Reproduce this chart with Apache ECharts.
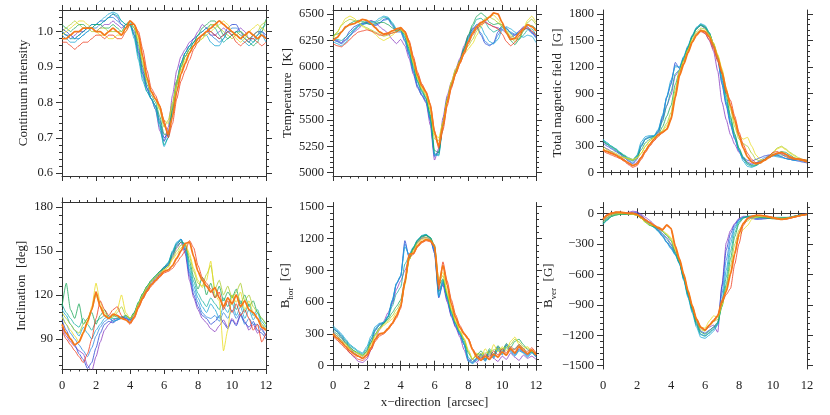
<!DOCTYPE html>
<html>
<head>
<meta charset="utf-8">
<script src="https://cdn.jsdelivr.net/npm/echarts@6/dist/echarts.min.js"></script>
<style>
html, body { margin: 0; padding: 0; background: #fff; }
#chart { width: 830px; height: 415px; }
</style>
</head>
<body>
<div id="chart"></div>
<script>
// sample positions along the slit [arcsec]
const xPos = [0, 0.25, 0.5, 0.75, 1, 1.25, 1.5, 1.75, 2, 2.25, 2.5, 2.75,
  3, 3.25, 3.5, 3.75, 4, 4.25, 4.5, 4.75, 5, 5.25, 5.5, 5.75,
  6, 6.25, 6.5, 6.75, 7, 7.25, 7.5, 7.75, 8, 8.25, 8.5, 8.75,
  9, 9.25, 9.5, 9.75, 10, 10.25, 10.5, 10.75, 11, 11.25, 11.5, 11.75, 12];

// rows: purple, blue, azure, cyan, teal, green, lime, yellow, red, orange
const intensity = [
  [1.00,0.99,0.98,0.99,1.00,1.00,1.01,1.01,1.00,1.01,1.02,1.02, 1.03,1.02,1.01,1.02,1.02,0.99,0.94,0.88,0.84,0.81,0.78,0.72, 0.69,0.73,0.82,0.89,0.93,0.95,0.97,0.98,1.00,1.02,1.01,0.99, 0.99,1.00,1.01,1.00,0.99,1.00,1.01,1.00,0.98,0.99,1.00,0.99,0.98],
  [1.01,1.00,0.99,0.98,0.99,1.00,1.01,1.02,1.02,1.03,1.03,1.04, 1.05,1.04,1.02,1.01,1.02,1.00,0.95,0.89,0.84,0.81,0.79,0.75, 0.70,0.71,0.79,0.86,0.91,0.94,0.96,0.98,0.99,1.00,1.01,1.00, 0.99,0.98,0.99,1.01,1.02,1.02,1.00,0.98,0.97,0.99,1.00,1.00,0.99],
  [1.00,0.99,0.99,0.98,0.98,0.99,1.00,1.01,1.01,1.02,1.03,1.04, 1.04,1.03,1.02,1.01,1.02,0.99,0.94,0.88,0.84,0.81,0.79,0.74, 0.69,0.71,0.79,0.86,0.91,0.94,0.96,0.97,0.98,0.99,1.00,0.99, 0.98,0.97,0.98,1.00,1.01,1.01,1.00,0.99,0.98,0.98,0.99,1.00,0.98],
  [0.99,0.98,0.97,0.97,0.98,0.99,1.00,1.01,1.02,1.03,1.04,1.05, 1.055,1.05,1.03,1.02,1.02,0.98,0.92,0.86,0.83,0.81,0.78,0.73, 0.675,0.70,0.77,0.85,0.90,0.93,0.95,0.97,0.98,0.99,0.99,0.97, 0.96,0.96,0.98,1.00,1.00,0.99,0.98,0.97,0.96,0.97,0.98,0.99,0.97],
  [1.00,0.99,0.98,0.98,0.99,1.00,1.01,1.02,1.02,1.02,1.03,1.04, 1.05,1.045,1.03,1.02,1.025,0.99,0.93,0.87,0.83,0.81,0.79,0.74, 0.68,0.70,0.78,0.86,0.91,0.94,0.96,0.97,0.99,1.00,1.01,1.02, 1.01,0.99,0.97,0.98,0.99,1.00,1.00,0.99,0.98,0.97,0.99,1.01,1.02],
  [1.02,1.01,1.00,1.01,1.02,1.02,1.01,1.01,1.02,1.02,1.01,1.01, 1.02,1.01,1.00,1.02,1.03,1.01,0.96,0.90,0.85,0.82,0.80,0.76, 0.71,0.71,0.78,0.85,0.90,0.93,0.95,0.97,0.99,1.01,1.02,1.03, 1.03,1.01,0.99,0.98,0.99,1.00,0.99,0.98,0.97,0.96,0.97,1.00,1.035],
  [1.00,1.01,1.02,1.03,1.02,1.01,1.01,1.00,1.00,1.01,1.01,1.00, 1.00,1.00,1.00,1.01,1.02,1.01,0.97,0.91,0.86,0.83,0.81,0.78, 0.73,0.75,0.80,0.86,0.90,0.93,0.95,0.96,0.97,0.98,1.00,1.02, 1.02,1.01,1.00,0.99,0.98,0.99,1.00,0.99,0.98,0.99,1.00,1.02,1.03],
  [0.99,1.00,1.01,1.02,1.03,1.03,1.02,1.01,1.00,0.99,0.99,0.98, 0.98,0.99,0.99,1.00,1.02,1.02,0.98,0.92,0.87,0.83,0.81,0.78, 0.75,0.74,0.79,0.85,0.89,0.92,0.94,0.96,0.97,0.98,0.99,1.00, 1.01,1.02,1.03,1.02,1.00,0.98,0.97,0.98,1.00,1.01,1.02,1.01,1.00],
  [0.97,0.97,0.96,0.95,0.96,0.97,0.97,0.98,0.99,0.99,0.98,0.99, 0.99,0.98,0.98,1.00,1.02,1.02,1.00,0.95,0.89,0.84,0.82,0.79, 0.75,0.70,0.74,0.81,0.86,0.89,0.92,0.95,0.97,0.99,1.00,1.00, 0.99,0.98,0.99,1.00,0.99,0.97,0.96,0.97,0.98,0.98,0.97,0.96,0.97],
  [0.98,0.98,0.99,1.00,1.00,1.01,1.01,1.01,1.00,1.00,0.99,1.00, 1.01,1.00,0.99,1.01,1.03,1.02,0.99,0.93,0.87,0.83,0.81,0.79, 0.74,0.71,0.76,0.83,0.88,0.91,0.94,0.96,0.98,0.99,1.00,1.01, 1.02,1.03,1.02,1.01,1.00,0.99,0.98,0.99,1.00,0.99,0.98,0.99,0.98]
];

const temperature = [
  [6260,6240,6220,6260,6300,6330,6360,6400,6420,6440,6420,6380, 6350,6320,6260,6220,6260,6200,6080,5930,5800,5730,5660,5450, 5120,5230,5520,5730,5860,5980,6080,6200,6300,6360,6400,6420, 6430,6400,6380,6370,6350,6320,6280,6300,6340,6380,6360,6320,6290],
  [6270,6250,6230,6280,6340,6380,6400,6410,6420,6410,6390,6410, 6450,6460,6400,6340,6340,6250,6120,5960,5820,5740,5680,5500, 5160,5200,5480,5700,5830,5960,6060,6170,6280,6360,6380,6300, 6220,6200,6230,6330,6390,6370,6320,6300,6320,6370,6380,6330,6280],
  [6260,6240,6220,6250,6300,6350,6390,6410,6410,6400,6400,6420, 6440,6450,6390,6330,6330,6240,6110,5950,5810,5730,5670,5490, 5150,5190,5470,5690,5830,5950,6050,6160,6270,6340,6370,6320, 6240,6210,6220,6300,6370,6360,6330,6310,6330,6360,6360,6320,6270],
  [6240,6220,6200,6230,6290,6340,6380,6400,6410,6420,6430,6460, 6480,6470,6420,6360,6350,6270,6140,5980,5850,5760,5700,5520, 5170,5160,5440,5680,5820,5940,6040,6150,6260,6340,6400,6380, 6300,6240,6220,6260,6350,6380,6360,6330,6300,6280,6300,6290,6230],
  [6280,6260,6250,6280,6320,6360,6390,6420,6430,6430,6420,6440, 6470,6460,6410,6350,6350,6280,6150,5990,5860,5770,5700,5530, 5180,5170,5450,5690,5830,5950,6050,6170,6290,6380,6450,6460, 6420,6360,6330,6350,6380,6360,6320,6270,6260,6300,6350,6360,6300],
  [6300,6310,6330,6370,6410,6430,6440,6430,6410,6400,6410,6420, 6420,6400,6370,6340,6350,6300,6170,6010,5870,5780,5710,5550, 5210,5190,5460,5690,5840,5960,6060,6180,6300,6400,6480,6510, 6480,6420,6400,6410,6400,6340,6250,6210,6260,6340,6400,6390,6360],
  [6280,6330,6390,6430,6450,6440,6420,6390,6370,6350,6330,6310, 6290,6300,6320,6340,6350,6310,6190,6030,5890,5790,5730,5590, 5320,5300,5470,5690,5850,5970,6060,6140,6200,6260,6340,6410, 6460,6470,6450,6420,6380,6330,6280,6240,6270,6340,6420,6450,6400],
  [6270,6320,6400,6460,6480,6460,6420,6380,6360,6340,6310,6270, 6250,6270,6300,6330,6350,6320,6200,6040,5900,5800,5740,5600, 5360,5330,5480,5690,5860,5980,6050,6120,6170,6220,6300,6380, 6440,6480,6490,6450,6390,6340,6300,6260,6290,6360,6440,6480,6420],
  [6220,6200,6190,6220,6260,6300,6330,6340,6350,6340,6320,6300, 6300,6310,6320,6330,6360,6340,6250,6100,5950,5840,5770,5650, 5400,5230,5400,5630,5800,5930,6030,6120,6220,6300,6360,6400, 6420,6400,6380,6360,6310,6240,6200,6230,6290,6350,6370,6340,6300],
  [6250,6280,6330,6380,6400,6410,6430,6450,6440,6410,6370,6330, 6310,6320,6340,6360,6370,6330,6230,6070,5920,5820,5760,5640, 5380,5250,5440,5660,5820,5940,6040,6140,6240,6320,6380,6420, 6440,6470,6510,6500,6420,6320,6260,6270,6320,6360,6400,6380,6340]
];

const totalField = [
  [300,270,240,200,180,150,100,80,120,180,250,320, 380,450,600,760,880,1100,1160,1280,1390,1490,1580,1620, 1580,1500,1380,1150,800,600,430,320,230,160,120,100, 110,130,150,170,190,210,220,200,180,160,150,140,130],
  [340,300,270,240,210,170,130,100,150,300,380,400, 410,470,620,850,1000,1250,1180,1300,1420,1540,1630,1670, 1640,1560,1420,1280,1000,760,540,380,250,170,140,130, 150,170,190,200,210,200,180,160,150,140,130,120,110],
  [360,320,280,250,220,180,140,110,170,320,390,410, 415,480,640,860,1020,1220,1190,1310,1430,1550,1640,1680, 1650,1570,1430,1290,1020,780,560,390,250,150,100,90, 110,140,170,190,200,190,180,160,150,140,140,130,120],
  [380,340,300,270,230,190,150,130,200,350,410,420, 420,490,650,860,1050,1200,1200,1320,1440,1560,1650,1690, 1670,1590,1450,1300,1050,800,580,400,250,130,70,60, 80,110,140,170,190,180,170,160,150,140,150,140,130],
  [370,330,300,270,230,200,170,150,190,300,380,400, 410,460,580,760,920,1120,1170,1300,1420,1550,1640,1680, 1660,1590,1460,1310,1080,840,610,420,270,160,90,70, 80,110,150,180,200,200,200,190,170,150,150,140,130],
  [360,320,290,260,220,190,160,140,180,260,340,380, 400,430,520,640,760,1000,1150,1280,1410,1540,1630,1670, 1650,1580,1460,1320,1120,880,640,440,280,180,110,80, 90,120,150,180,200,220,240,230,200,170,150,140,130],
  [300,260,240,220,190,170,150,140,160,220,300,360, 400,430,480,560,680,940,1150,1270,1400,1520,1600,1640, 1630,1570,1470,1330,1160,930,720,520,380,330,300,220, 150,130,150,180,230,280,300,270,230,200,170,150,140],
  [280,240,220,200,180,170,160,150,170,220,300,360, 400,430,470,530,640,900,1150,1270,1390,1500,1580,1620, 1610,1560,1470,1340,1180,960,760,560,420,380,400,300, 200,150,140,170,220,270,290,260,220,190,160,150,140],
  [250,220,200,180,160,130,90,60,80,150,230,300, 360,410,450,500,620,860,1120,1240,1370,1480,1560,1600, 1580,1510,1400,1260,1120,900,820,640,460,320,220,150, 110,120,150,190,230,240,210,180,160,150,160,150,140],
  [260,240,220,200,170,140,110,80,100,170,250,320, 380,430,460,490,600,850,1100,1230,1360,1480,1560,1610, 1600,1540,1440,1300,1140,940,760,600,420,280,180,120, 100,110,140,170,200,220,230,210,180,160,150,140,120]
];

const inclination = [
  [98,92,88,85,82,80,72,68,78,88,96,100, 103,104,105,104,103,108,114,120,125,129,132,136, 139,140,146,152,156,148,130,118,110,104,101,97, 95,99,103,98,104,100,107,102,96,100,94,97,92],
  [103,96,90,86,80,76,70,74,84,94,100,102, 101,103,105,104,102,107,113,119,124,128,131,134, 138,141,148,154,158,150,133,120,112,106,104,100, 102,106,101,97,103,99,106,101,98,102,96,94,90],
  [106,100,94,90,86,82,78,84,92,98,102,104, 102,103,104,105,103,107,114,120,125,129,132,135, 138,141,149,155,158,151,135,123,115,108,105,104, 106,102,108,104,110,104,108,100,104,100,100,96,92],
  [110,106,100,96,92,98,94,90,96,100,104,106, 102,103,104,105,103,107,114,120,125,129,132,135, 139,142,150,156,158,152,137,126,118,112,108,114, 110,104,112,108,115,106,112,104,110,103,108,100,96],
  [114,108,104,100,98,104,100,96,102,104,106,105, 104,104,105,106,104,108,115,121,126,130,133,136, 139,142,149,155,157,154,140,129,121,116,112,118, 114,110,118,112,120,110,116,108,114,106,110,102,98],
  [112,128,110,104,114,100,104,108,100,106,110,104, 106,105,104,106,104,108,115,121,126,130,133,136, 138,140,147,153,156,155,143,132,124,132,120,128, 118,126,116,122,118,124,114,120,112,116,108,104,100],
  [108,104,100,96,94,100,104,110,120,112,106,104, 105,108,112,106,104,107,114,120,125,129,132,135, 137,139,145,150,154,154,146,136,128,126,134,140, 124,130,120,126,118,122,128,116,120,112,108,104,100],
  [105,100,96,92,88,95,100,112,128,115,108,104, 106,110,120,108,104,107,114,120,125,129,132,135, 137,139,144,148,152,155,148,138,130,125,130,143, 120,116,82,96,120,115,122,110,116,108,104,100,97],
  [96,90,86,82,78,74,80,90,104,116,110,106, 110,112,106,103,100,104,111,117,122,126,129,132, 135,136,138,142,146,150,157,152,140,132,128,124, 118,122,110,116,108,114,106,110,104,96,100,88,94],
  [100,94,90,86,88,94,102,110,122,112,106,104, 107,106,104,103,101,105,112,118,123,127,130,133, 136,137,140,145,150,155,156,146,136,130,126,122, 125,118,112,118,114,120,112,116,110,108,104,98,96]
];

const bHor = [
  [320,280,240,180,120,80,40,30,60,150,250,340, 420,500,580,720,800,900,1000,1100,1160,1200,1210,1190, 1080,700,760,600,460,360,270,150,40,60,30,80, 50,100,70,40,90,60,120,80,50,100,70,90,60],
  [350,320,270,210,160,120,90,70,110,220,330,390, 400,460,600,770,840,1180,1020,1100,1170,1210,1230,1200, 1060,640,780,620,470,370,290,200,60,30,70,110, 60,140,90,180,120,200,150,110,160,130,100,140,90],
  [360,330,290,230,180,140,110,90,140,250,350,395, 405,465,610,775,845,1150,1030,1110,1180,1220,1235,1205, 1080,650,790,630,480,380,295,200,50,25,60,100, 50,130,80,160,110,190,140,100,150,125,90,130,85],
  [380,340,300,250,200,170,140,120,180,280,370,400, 410,470,620,780,850,1120,1050,1120,1190,1230,1240,1210, 1100,660,800,640,490,390,300,200,40,20,50,90, 40,120,70,150,100,170,130,90,140,120,80,120,80],
  [360,320,280,240,190,160,130,110,160,250,340,380, 405,455,560,680,740,960,1030,1115,1185,1225,1235,1210, 1120,700,810,650,500,395,310,220,80,40,75,115, 60,140,90,170,120,190,150,160,200,160,110,130,100],
  [330,300,260,220,170,140,120,100,140,220,300,360, 400,440,500,560,620,800,1000,1110,1180,1220,1230,1210, 1140,760,820,660,510,400,320,240,120,60,100,140, 80,160,110,190,140,210,170,230,250,200,150,130,110],
  [310,280,240,210,165,135,115,95,130,210,290,350, 390,425,470,530,590,780,1000,1095,1165,1205,1215,1195, 1130,790,850,680,525,410,325,250,135,60,110,110, 120,130,150,160,160,175,200,250,225,180,165,135,115],
  [300,260,230,200,160,130,110,90,120,200,280,340, 380,410,440,500,560,760,1000,1080,1150,1190,1200,1180, 1120,820,880,700,540,420,330,260,150,60,120,80, 160,100,200,130,180,140,230,270,200,160,180,140,120],
  [280,240,200,160,120,90,60,50,80,150,230,280, 300,340,390,450,540,780,1020,1050,1120,1160,1180,1170, 1120,720,980,800,620,480,380,310,260,160,100,60, 110,80,140,100,160,120,180,150,200,160,130,170,120],
  [300,260,220,180,140,110,90,70,100,170,250,300, 310,350,400,470,560,800,1050,1060,1130,1170,1190,1180, 1130,760,950,760,580,450,360,300,250,150,80,50, 90,60,110,80,130,100,160,120,180,140,110,150,100]
];

const bVer = [
  [-60,-20,0,10,5,0,10,20,15,-10,-40,-70, -110,-160,-200,-240,-300,-380,-470,-620,-780,-920,-1040,-1120, -1150,-1120,-1100,-1170,-700,-290,-170,-100,-50,-30,-30,-40, -50,-50,-50,-50,-50,-50,-50,-45,-40,-35,-20,-10,-10],
  [-80,-40,-10,0,5,0,0,10,5,-20,-60,-100, -130,-170,-220,-280,-330,-400,-490,-640,-800,-940,-1070,-1160, -1180,-1150,-1120,-1080,-720,-360,-200,-110,-60,-40,-40,-50, -60,-60,-55,-50,-45,-45,-50,-45,-40,-30,-20,-10,-10],
  [-90,-50,-20,-5,0,-5,-5,0,-5,-30,-70,-105, -135,-175,-225,-285,-340,-405,-495,-650,-815,-960,-1095,-1190, -1205,-1175,-1140,-1090,-790,-460,-250,-130,-65,-40,-35,-40, -50,-50,-48,-45,-42,-42,-45,-42,-40,-30,-20,-12,-12],
  [-110,-70,-30,-10,-5,-10,-10,-5,-10,-40,-80,-110, -140,-180,-230,-290,-350,-410,-500,-660,-830,-980,-1120,-1220, -1230,-1200,-1160,-1100,-860,-560,-300,-150,-70,-40,-30,-30, -40,-40,-40,-40,-40,-40,-40,-40,-40,-30,-20,-15,-15],
  [-105,-65,-30,-15,-8,-10,-10,-8,-15,-45,-85,-115, -135,-165,-205,-255,-310,-395,-490,-645,-810,-960,-1100,-1195, -1210,-1180,-1140,-1085,-890,-630,-375,-190,-85,-45,-30,-30, -35,-40,-42,-45,-48,-48,-45,-42,-40,-30,-20,-15,-12],
  [-100,-60,-30,-20,-10,-10,-10,-10,-20,-50,-90,-120, -130,-150,-180,-220,-270,-380,-480,-630,-790,-940,-1080,-1170, -1190,-1160,-1120,-1070,-920,-700,-450,-230,-100,-50,-30,-30, -30,-40,-45,-50,-55,-55,-50,-45,-40,-30,-20,-15,-10],
  [-85,-45,-20,-10,-5,-5,-8,-10,-20,-50,-90,-115, -125,-145,-175,-210,-255,-365,-470,-615,-775,-925,-1060,-1145, -1160,-1110,-1065,-1045,-910,-730,-515,-305,-165,-105,-75,-45, -35,-35,-38,-42,-48,-50,-50,-48,-42,-32,-22,-15,-10],
  [-70,-30,-10,0,0,0,-5,-10,-20,-50,-90,-110, -120,-140,-170,-200,-240,-350,-460,-600,-760,-910,-1040,-1120, -1130,-1060,-1010,-1020,-900,-760,-580,-380,-230,-160,-120,-60, -40,-30,-30,-35,-40,-45,-50,-50,-45,-35,-25,-15,-10],
  [-50,-10,5,10,10,5,0,0,-10,-30,-60,-90, -120,-150,-170,-120,-150,-330,-460,-610,-770,-920,-1050,-1130, -1150,-1100,-1050,-1000,-880,-800,-740,-500,-300,-120,-60,-30, -20,-20,-25,-30,-40,-50,-60,-60,-50,-40,-30,-20,-10],
  [-60,-20,0,10,10,5,0,0,-10,-40,-70,-90, -120,-140,-160,-115,-150,-320,-450,-600,-760,-910,-1040,-1120, -1150,-1100,-1060,-1010,-860,-770,-600,-400,-200,-100,-50,-30, -20,-20,-25,-35,-45,-55,-60,-55,-45,-35,-25,-15,-10]
];

// major tick labels
const intensityTicks = [0.6, 0.7, 0.8, 0.9, 1.0];
const temperatureTicks = [5000, 5250, 5500, 5750, 6000, 6250, 6500];
const totalFieldTicks = [0, 300, 600, 900, 1200, 1500, 1800];
const inclinationTicks = [90, 120, 150, 180];
const bHorTicks = [0, 300, 600, 900, 1200, 1500];
const bVerTicks = [-1500, -1200, -900, -600, -300, 0];

const lineColors = ['#8a3cc2', '#2a47d4', '#2f86e0', '#16a4d4', '#12b0a0', '#1ea85a', '#a8cc28', '#e8dc1e', '#ee3a1c', '#f5781a'];
const font = 'Liberation Serif';
const ink = '#333';

const panels = [
  { title: 'Continuum intensity', rows: intensity, ticks: intensityTicks, minor: 0.02, digits: 1,
    left: 62, top: 10, width: 204, height: 166, min: 0.592, max: 1.061, nameGap: 32 },
  { title: 'Temperature  [K]', rows: temperature, ticks: temperatureTicks, minor: 50, digits: 0,
    left: 333, top: 10, width: 203, height: 166, min: 4969, max: 6538, nameGap: 39 },
  { title: 'Total magnetic field  [G]', rows: totalField, ticks: totalFieldTicks, minor: 60, digits: 0,
    left: 603, top: 10, width: 204, height: 166, min: -38, max: 1845, nameGap: 39 },
  { title: 'Inclination  [deg]', rows: inclination, ticks: inclinationTicks, minor: 6, digits: 0,
    left: 62, top: 202.5, width: 204, height: 166.5, min: 69.6, max: 182.9, nameGap: 34 },
  { title: '{m|B}{s|hor}{m|  [G]}', rows: bHor, ticks: bHorTicks, minor: 60, digits: 0,
    left: 333, top: 202.5, width: 203, height: 166.5, min: -31, max: 1540, nameGap: 38 },
  { title: '{m|B}{s|ver}{m|  [G]}', rows: bVer, ticks: bVerTicks, minor: 60, digits: 0,
    left: 603, top: 202.5, width: 204, height: 166.5, min: -1532, max: 106, nameGap: 39 }
];

function minorValues(min, max, step) {
  const out = [];
  for (let k = Math.ceil(min / step - 1e-9); k * step <= max + 1e-9; k++) {
    out.push(+(k * step).toFixed(6));
  }
  return out;
}

const textStyle = { fontFamily: font, fontSize: 12.5, color: '#222' };
const grid = [], xAxis = [], yAxis = [], series = [];

panels.forEach((p, i) => {
  const bottomRow = i >= 3;
  grid.push({ left: p.left, top: p.top, width: p.width, height: p.height });

  const xBase = {
    gridIndex: i, type: 'value', min: 0, max: 12, interval: 2,
    axisLine: { show: true, lineStyle: { color: ink, width: 1 } },
    axisTick: { show: true, inside: false, length: 5, lineStyle: { color: ink } },
    minorTick: { show: true, splitNumber: 4, length: 2.5, lineStyle: { color: ink } },
    splitLine: { show: false }, minorSplitLine: { show: false }
  };
  xAxis.push(Object.assign({}, xBase, {
    position: 'bottom',
    axisLabel: Object.assign({ show: bottomRow, margin: 10 }, textStyle),
    name: i === 4 ? 'x\u2212direction  [arcsec]' : '',
    nameLocation: 'middle', nameGap: 27,
    nameTextStyle: { fontFamily: font, fontSize: 13, color: '#222' }
  }));
  xAxis.push(Object.assign({}, xBase, { position: 'top', axisLabel: { show: false } }));

  const minors = minorValues(p.min, p.max, p.minor);
  const fmt = v => (p.digits ? v.toFixed(p.digits) : String(Math.round(v))).replace('-', '\u2212');
  const yBase = { gridIndex: i, type: 'value', min: p.min, max: p.max, splitLine: { show: false } };
  ['left', 'right'].forEach(side => {
    yAxis.push(Object.assign({}, yBase, {
      position: side,
      axisLine: { show: true, lineStyle: { color: ink, width: 1 } },
      axisTick: { show: true, inside: false, length: 6, customValues: p.ticks, lineStyle: { color: ink } },
      axisLabel: Object.assign({ show: side === 'left', customValues: p.ticks, formatter: fmt, margin: 9 }, textStyle),
      name: side === 'left' ? p.title : '',
      nameLocation: 'middle', nameGap: p.nameGap,
      nameTextStyle: {
        fontFamily: font, fontSize: 13, color: '#222',
        rich: {
          m: { fontFamily: font, fontSize: 13, lineHeight: 18, verticalAlign: 'middle', color: '#222' },
          s: { fontFamily: font, fontSize: 9, lineHeight: 9, verticalAlign: 'bottom', color: '#222' }
        }
      }
    }));
    yAxis.push(Object.assign({}, yBase, {
      position: side,
      axisLine: { show: false },
      axisTick: { show: true, inside: false, length: 3, customValues: minors, lineStyle: { color: ink } },
      axisLabel: { show: false }
    }));
  });

  const last = p.rows.length - 1;
  p.rows.forEach((vals, c) => {
    series.push({
      type: 'line', xAxisIndex: 2 * i, yAxisIndex: 4 * i,
      data: xPos.map((x, k) => [x, vals[k]]),
      symbol: 'none', showSymbol: false, silent: true,
      smooth: 0.2, smoothMonotone: 'x',
      lineStyle: { color: lineColors[c], width: c === last ? 1.8 : 0.8 }
    });
  });
});

const chart = echarts.init(document.getElementById('chart'));
chart.setOption({ animation: false, backgroundColor: '#fff', grid, xAxis, yAxis, series });
</script>
</body>
</html>
